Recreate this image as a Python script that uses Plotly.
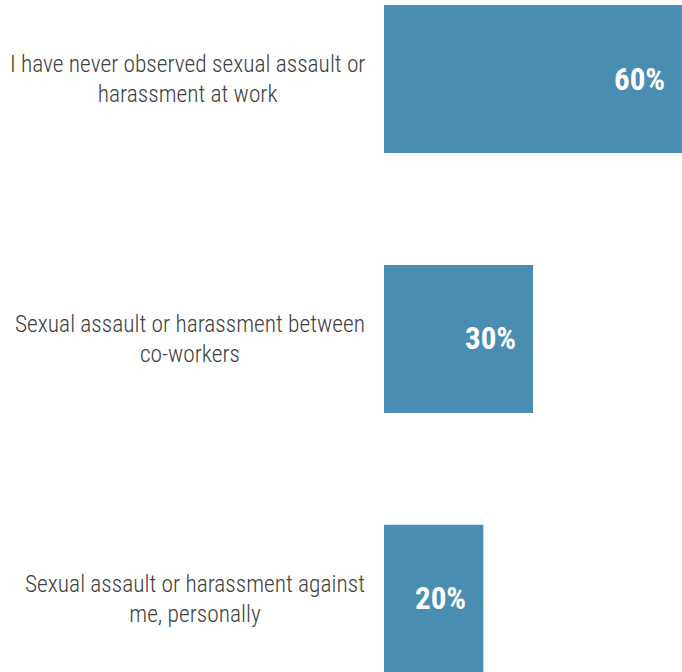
import plotly.graph_objects as go

categories = [
    "I have never observed sexual assault or<br>harassment at work",
    "Sexual assault or harassment between<br>co-workers",
    "Sexual assault or harassment against<br>me, personally",
]
values = [60, 30, 20]
value_labels = ["60%", "30%", "20%"]

# bottom-to-top order for the category axis
order = list(reversed(categories))

BAR = "#4A8DB2"
LABEL_FONT = "Roboto Condensed, Liberation Sans Narrow, DejaVu Sans Condensed, Roboto, sans-serif"

fig = go.Figure(
    go.Bar(
        x=values,
        y=categories,
        orientation="h",
        marker=dict(color=BAR, line=dict(width=0)),
        width=0.57,
        hoverinfo="skip",
    )
)

annotations = []
for cat, v, lab in zip(categories, values, value_labels):
    annotations.append(dict(
        x=0, xref="paper", y=cat, yref="y",
        text=cat, showarrow=False, xanchor="right", yanchor="middle",
        align="center", xshift=-17,
        font=dict(family=LABEL_FONT, size=23.4, color="#404040", weight=300),
    ))
    annotations.append(dict(
        x=v, xref="x", y=cat, yref="y",
        text=lab, showarrow=False, xanchor="right", yanchor="middle",
        xshift=-15,
        font=dict(family=LABEL_FONT, size=31, color="white", weight=700),
    ))

fig.update_layout(
    width=682, height=672,
    margin=dict(l=384, r=0, t=0, b=0),
    paper_bgcolor="white", plot_bgcolor="white",
    showlegend=False,
    xaxis=dict(range=[0, 60], visible=False, fixedrange=True),
    yaxis=dict(
        type="category", categoryorder="array", categoryarray=order,
        range=[-0.281, 2.304], visible=False, fixedrange=True,
    ),
    annotations=annotations,
)

fig.write_html(
    "out.html",
    config={"displayModeBar": False, "staticPlot": True},
    post_script="document.body.style.margin='0';document.body.style.overflow='hidden';",
)
